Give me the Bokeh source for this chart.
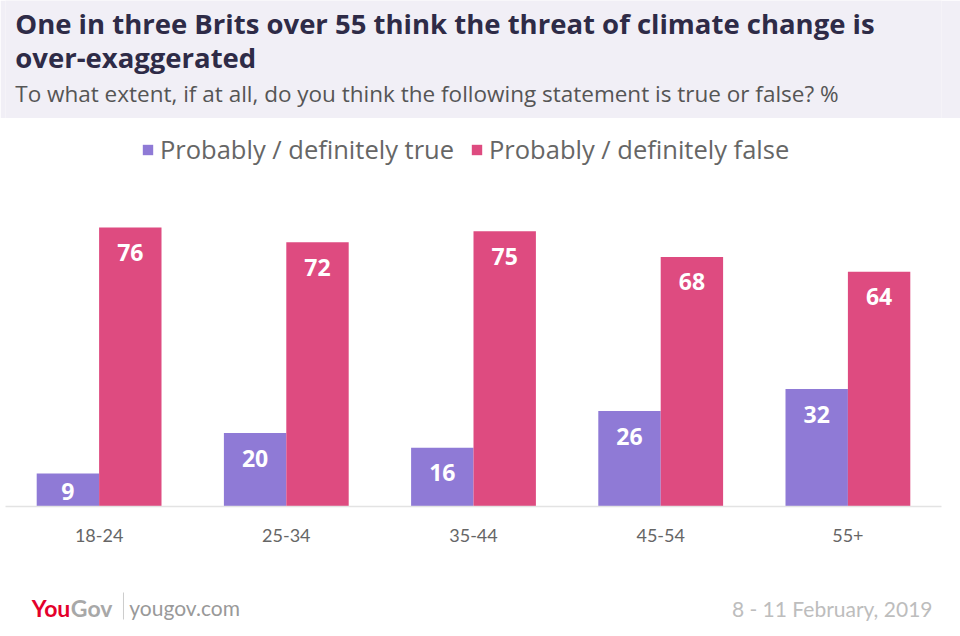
from bokeh.plotting import figure
from bokeh.layouts import column
from bokeh.models import (ColumnDataSource, FactorRange, Range1d, Legend, LegendItem)
from bokeh.transform import dodge
from bokeh.core.properties import value
from bokeh.embed import file_html
from bokeh.resources import INLINE

# ---- data ----
categories = ["18-24", "25-34", "35-44", "45-54", "55+"]
true_vals = [9, 20, 16, 26, 32]
false_vals = [76, 72, 75, 68, 64]
series_names = ["Probably / definitely true", "Probably / definitely false"]
title_lines = ["One in three Brits over 55 think the threat of climate change is",
               "over-exaggerated"]
subtitle = "To what extent, if at all, do you think the following statement is true or false? %"
source_text = "yougov.com"
date_text = "8 - 11 February, 2019"

PURPLE = "#8f7ad6"
PINK = "#de4b80"
W = 960
H_HEAD, H_CHART, H_FOOT = 118, 455, 63


def blank(h, bg):
    f = figure(width=W, height=h, x_range=Range1d(0, W), y_range=Range1d(h, 0),
               output_backend="svg", toolbar_location=None,
               x_axis_location=None, y_axis_location=None,
               min_border=0, min_border_left=0, min_border_right=0,
               min_border_top=0, min_border_bottom=0)
    f.outline_line_color = None
    f.xgrid.grid_line_color = None
    f.ygrid.grid_line_color = None
    f.background_fill_color = bg
    f.border_fill_color = bg
    return f


def txt(f, s, x, y, size, color, style="normal", align="left", font="Lato"):
    f.text(x=[x], y=[y], text=[s], text_font=value(font), text_font_size=size,
           text_color=color, text_font_style=style, text_align=align,
           text_baseline="middle")


# ---- header ----
head = blank(H_HEAD, "#f1eff6")
txt(head, title_lines[0], 10, 23, "27.5px", "#2e2b47", "bold", font="Open Sans")
txt(head, title_lines[1], 10, 57, "27.5px", "#2e2b47", "bold", font="Open Sans")
txt(head, subtitle, 10, 93, "22.5px", "#555555", font="Open Sans")

# ---- chart ----
src = ColumnDataSource(dict(
    cat=categories,
    t=true_vals,
    f=false_vals,
    t_lab=[str(v) for v in true_vals],
    f_lab=[str(v) for v in false_vals],
    t_y=[v if v > 15 else v / 2 for v in true_vals],
    t_off=[25 if v > 15 else 2 for v in true_vals],
    f_y=[v if v > 15 else v / 2 for v in false_vals],
    f_off=[25 if v > 15 else 2 for v in false_vals],
))

p = figure(width=W, height=H_CHART, x_range=FactorRange(*categories, range_padding=0),
           y_range=Range1d(0, 103), output_backend="svg", toolbar_location=None,
           y_axis_location=None, min_border_left=5, min_border_right=19,
           min_border_top=10, min_border_bottom=67)
p.outline_line_color = None
p.xgrid.grid_line_color = None
p.ygrid.grid_line_color = None
p.background_fill_color = "white"
p.border_fill_color = "white"

r1 = p.vbar(x=dodge("cat", -1/6, range=p.x_range), top="t", width=1/3, source=src,
            fill_color=PURPLE, line_color=None)
r2 = p.vbar(x=dodge("cat", 1/6, range=p.x_range), top="f", width=1/3, source=src,
            fill_color=PINK, line_color=None)

for xo, ycol, lcol, ocol in [(-1/6, "t_y", "t_lab", "t_off"), (1/6, "f_y", "f_lab", "f_off")]:
    p.text(x=dodge("cat", xo, range=p.x_range), y=ycol, text=lcol, y_offset=ocol,
           source=src, text_align="center", text_baseline="middle",
           text_font=value("Open Sans"), text_font_style="bold", text_font_size="23px",
           text_color="white")

ax = p.xaxis[0]
ax.axis_line_color = "#e3e3e3"
ax.axis_line_width = 1.5
ax.major_tick_line_color = None
ax.minor_tick_line_color = None
ax.major_label_text_font = "Lato"
ax.major_label_text_font_size = "18px"
ax.major_label_text_color = "#666666"
ax.major_label_standoff = 16

legend = Legend(items=[LegendItem(label=series_names[0], renderers=[r1]),
                       LegendItem(label=series_names[1], renderers=[r2])],
                orientation="horizontal", location=(136, 340),
                background_fill_alpha=0, border_line_color=None,
                glyph_width=13, glyph_height=13, label_standoff=6, spacing=16,
                padding=0, margin=0,
                label_text_font="Open Sans", label_text_font_size="25.5px",
                label_text_color="#666666")
p.add_layout(legend, "center")

# ---- footer ----
foot = blank(H_FOOT, "white")
txt(foot, "You", 27, 34, "23px", "#e4002b", "bold")
txt(foot, "Gov", 67, 34, "23px", "#a8a8a8", "bold")
foot.segment(x0=[121], y0=[19], x1=[121], y1=[46], line_color="#cccccc", line_width=1)
txt(foot, source_text, 127, 34, "21px", "#999999")
txt(foot, date_text, 745, 35, "21px", "#bdbdbd")

layout = column(head, p, foot, spacing=0)
open("out.html", "w").write(file_html(layout, INLINE))
